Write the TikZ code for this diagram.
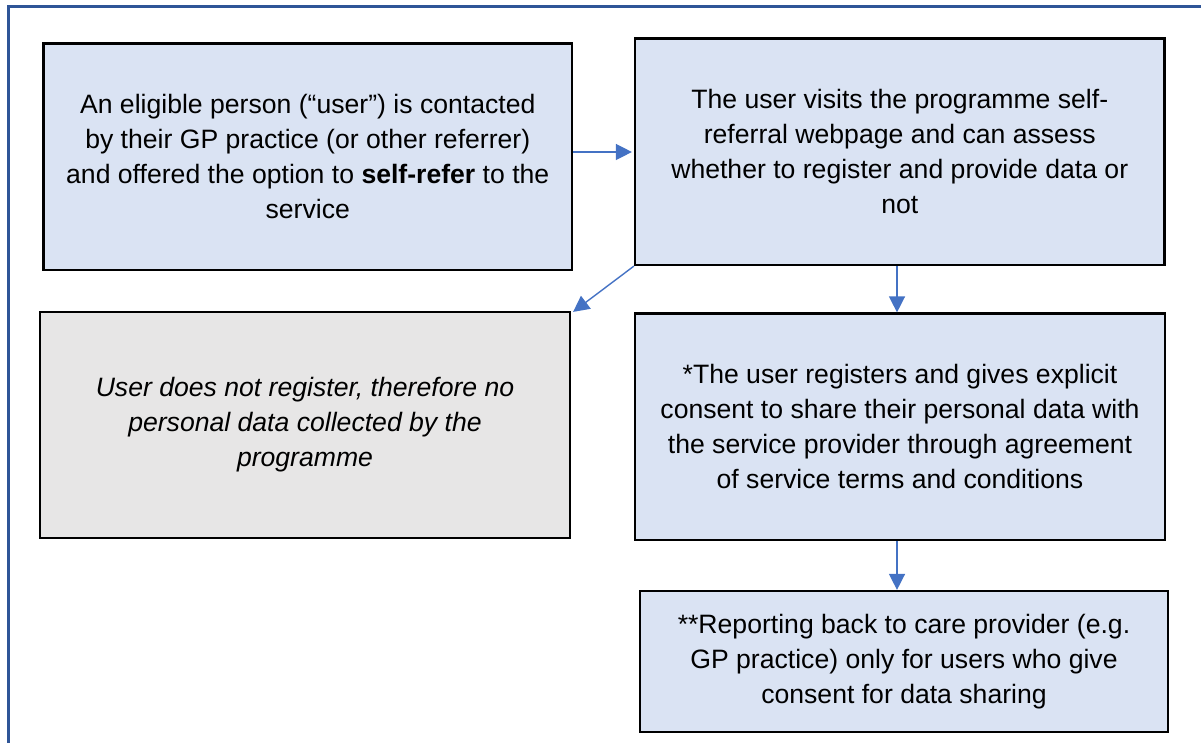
\documentclass[tikz,border=0pt]{standalone}
\usepackage{fontspec}
\setmainfont{Liberation Sans}
\usetikzlibrary{arrows.meta}
\definecolor{boxblue}{HTML}{DAE3F3}
\definecolor{boxgray}{HTML}{E7E6E6}
\definecolor{arrowblue}{HTML}{4472C4}
\definecolor{frameblue}{HTML}{2F5597}
\begin{document}
\begin{tikzpicture}[x=1pt,y=-1pt,
  box/.style={draw=black, line width=2.2pt, inner sep=0pt, align=center,
    fill=boxblue, font=\fontsize{26.6}{35}\selectfont},
  graybox/.style={box, fill=boxgray, font=\fontsize{26.6}{35}\selectfont\itshape},
  conn/.style={draw=arrowblue, line width=1.4pt,
    -{Triangle[length=16pt,width=16pt]}}]
\useasboundingbox (0,0) rectangle (1201,743);
\clip (0,0) rectangle (1201,743);
\draw[frameblue, line width=3pt] (1220,7) -- (8.3,7) -- (8.3,760);

\node[box, minimum width=528.5pt, minimum height=226.5pt] (b1) at (307.75,156.75)
  {An eligible person (“user”) is contacted\\by their GP practice (or other referrer)\\and offered the option to \textbf{self-refer} to the\\service};
\node[box, minimum width=529.5pt, minimum height=226.5pt] (b2) at (899.75,151.75)
  {The user visits the programme self-\\referral webpage and can assess\\whether to register and provide data or\\not};
\node[graybox, minimum width=530pt, minimum height=226pt] (b3) at (305,425)
  {User does not register, therefore no\\personal data collected by the\\programme};
\node[box, minimum width=530pt, minimum height=226.5pt] (b4) at (900,426.75)
  {*The user registers and gives explicit\\consent to share their personal data with\\the service provider through agreement\\of service terms and conditions};
\node[box, minimum width=528pt, minimum height=141pt] (b5) at (904,661.5)
  {**Reporting back to care provider (e.g.\\GP practice) only for users who give\\consent for data sharing};

\coordinate (r1) at (0,152);
\coordinate (c1) at (897,0);
\draw[conn] (b1.east |- r1) -- ([xshift=-2pt]b2.west |- r1);
\draw[conn] (b2.south west) -- ([shift={(2pt,-1pt)}]b3.north east);
\draw[conn] (b2.south -| c1) -- (b4.north -| c1);
\draw[conn] (b4.south -| c1) -- (b5.north -| c1);
\end{tikzpicture}
\end{document}
